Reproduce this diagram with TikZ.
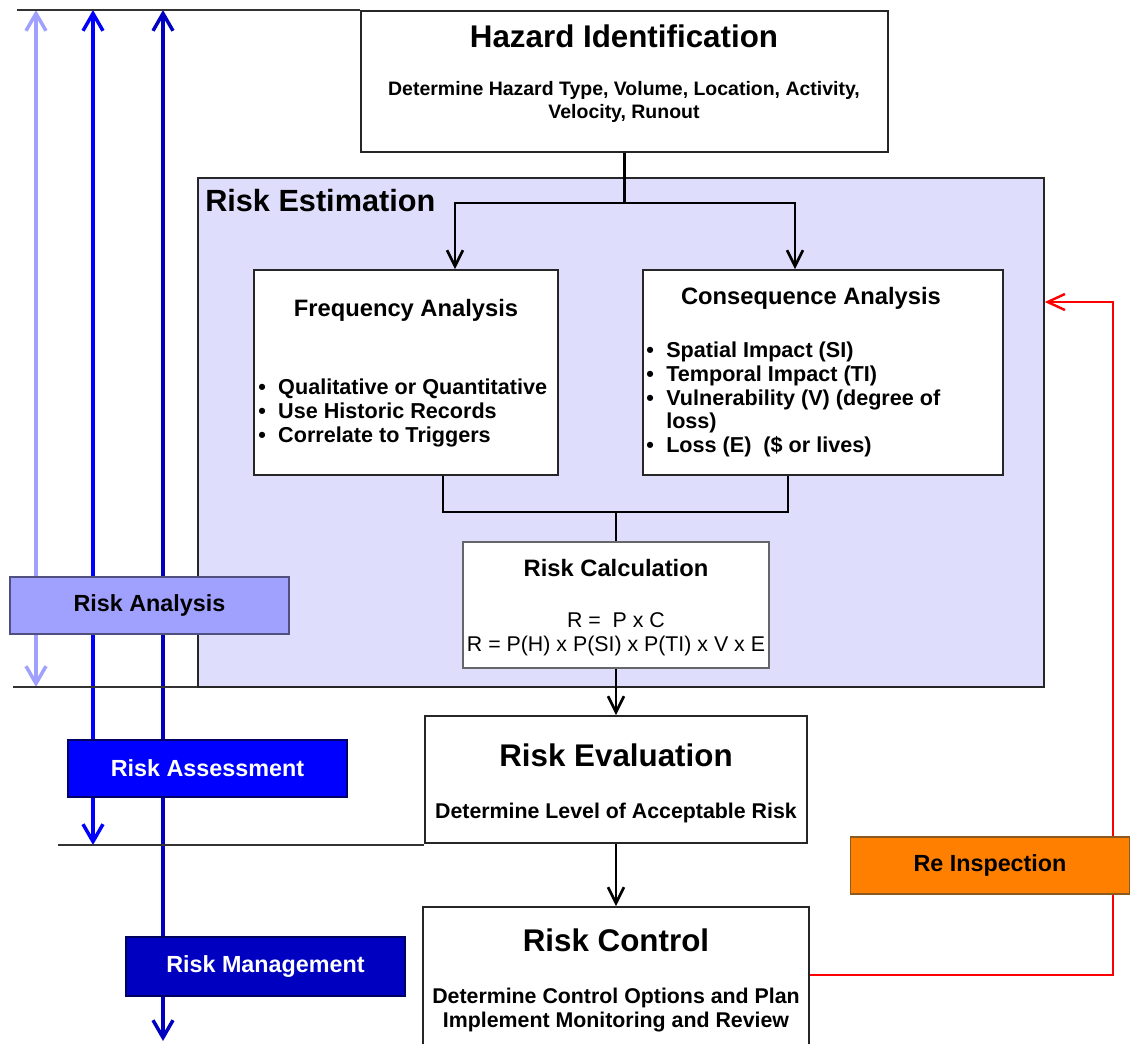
\documentclass[tikz,border=0pt]{standalone}
\usepackage{fontspec}
\setmainfont{Liberation Sans}
\usetikzlibrary{arrows.meta,calc}
\definecolor{estfill}{HTML}{DEDEFC}
\definecolor{ralight}{HTML}{A0A0FF}
\definecolor{rablue}{HTML}{0000FF}
\definecolor{rmdark}{HTML}{0000C0}
\definecolor{orng}{HTML}{FF8000}
\definecolor{orngedge}{HTML}{8A5A20}
\begin{document}
\begin{tikzpicture}[x=0.75pt,y=-0.75pt,
  box/.style={draw=black!85, line width=1.3pt, fill=white, inner sep=0pt},
  lbl/.style={draw, line width=0.9pt, inner sep=0pt, minimum width=209.25pt, minimum height=42.75pt,
              font=\fontsize{17.5}{20}\selectfont\bfseries},
  bigtitle/.style={font=\fontsize{23.5}{28}\selectfont\bfseries, inner sep=0pt},
  midtitle/.style={font=\fontsize{17.8}{21}\selectfont\bfseries, inner sep=0pt},
  subtext/.style={font=\fontsize{16}{17.6}\selectfont\bfseries, inner sep=0pt, align=center},
  bullets/.style={font=\fontsize{16.2}{17.7}\selectfont\bfseries, inner sep=0pt, align=left, anchor=west},
  conn/.style={line width=1.9pt, black},
  arr/.style={conn, -{Straight Barb[length=12pt,width=12pt,line width=2pt]}},
  thin/.style={line width=1pt, black!80},
  sidearr/.style={line width=3.6pt,
     {Straight Barb[length=13pt,width=15pt,line width=2.6pt]}-{Straight Barb[length=13pt,width=15pt,line width=2.6pt]}},
]
\useasboundingbox (0,0) rectangle (1132,1043);
\clip (0,0) rectangle (1132,1043);

% side arrows (behind labels)
\coordinate (a1t) at (36,10);  \coordinate (a1b) at (36,687);
\coordinate (a2t) at (93,10);  \coordinate (a2b) at (93,845);
\coordinate (a3t) at (163,10); \coordinate (a3b) at (163,1041);
\draw[sidearr, color=ralight] (a1t) -- (a1b);
\draw[sidearr, color=rablue] (a2t) -- (a2b);
\draw[sidearr, color=rmdark] (a3t) -- (a3b);

% risk estimation region
\node[draw=black!85, line width=1.1pt, fill=estfill, inner sep=0pt,
      minimum width=634.5pt, minimum height=381.75pt] (est) at (621,432.5) {};
\node[font=\fontsize{23}{27}\selectfont\bfseries, inner sep=0pt, anchor=west] (esttitle) at (205,201) {Risk Estimation};

% main boxes
\node[box, minimum width=395.25pt, minimum height=105.75pt] (haz) at (624.5,81.5) {};
\node[box, minimum width=228pt, minimum height=153.75pt] (freq) at (406,372.5) {};
\node[box, minimum width=270pt, minimum height=153.75pt] (cons) at (823,372.5) {};
\node[box, draw=black!60, line width=1pt, minimum width=229.5pt, minimum height=94.5pt] (calc) at (616,605) {};
\node[box, minimum width=286.5pt, minimum height=95.25pt] (eval) at (616,779.5) {};
\node[box, minimum width=289.5pt, minimum height=107.25pt] (ctrl) at (616,978.5) {};

% thin horizontal lines
\coordinate (h1) at (17,10);
\coordinate (h2) at (13,687);
\coordinate (h3) at (58,845);
\draw[thin] (h1) -- (h1 -| haz.west);
\draw[thin] (h2) -- (h2 -| est.west);
\draw[thin] (h3) -- (h3 -| eval.west);

% texts
\node[bigtitle] (hazt) at (624,36) {Hazard Identification};
\node[subtext, font=\fontsize{14.6}{17.3}\selectfont\bfseries] (hazs) at (624,102)
  {Determine Hazard Type, Volume, Location, Activity,\\Velocity, Runout};

\node[midtitle] (freqt) at (406,310) {Frequency Analysis};
\node[bullets] (freqb) at (258,413)
  {\makebox[15pt][l]{\textbullet}Qualitative or Quantitative\\
   \makebox[15pt][l]{\textbullet}Use Historic Records\\
   \makebox[15pt][l]{\textbullet}Correlate to Triggers};

\node[midtitle] (const) at (811,298) {Consequence Analysis};
\node[bullets] (consb) at (646,399.5)
  {\makebox[15pt][l]{\textbullet}Spatial Impact (SI)\\
   \makebox[15pt][l]{\textbullet}Temporal Impact (TI)\\
   \makebox[15pt][l]{\textbullet}Vulnerability (V) (degree of\\
   \makebox[15pt][l]{}loss)\\
   \makebox[15pt][l]{\textbullet}Loss (E)\ \ (\$ or lives)};

\node[midtitle] (calct) at (616,568) {Risk Calculation};
\node[font=\fontsize{16}{18}\selectfont, inner sep=0pt, align=center] (calcf) at (616,634)
  {R =\ \ P x C\\R = P(H) x P(SI) x P(TI) x V x E};

\node[bigtitle] (evalt) at (616,755) {Risk Evaluation};
\node[subtext] (evals) at (616,813) {Determine Level of Acceptable Risk};

\node[bigtitle] (ctrlt) at (616,940) {Risk Control};
\node[subtext] (ctrls) at (616,1010) {Determine Control Options and Plan\\Implement Monitoring and Review};

% connectors
\coordinate (split) at (624.5,203);
\coordinate (join) at (616,512);
\draw[conn] (haz.south) -- (split);
\draw[arr] (split) -| ([xshift=36.75pt]freq.north);
\draw[arr] (split) -| ([xshift=-21pt]cons.north);
\draw[conn] ([xshift=27.75pt]freq.south) |- (join);
\draw[conn] ([xshift=-26.25pt]cons.south) |- (join);
\draw[conn] (join) -- (calc.north);
\draw[arr] (calc.south) -- (eval.north);
\draw[arr] (eval.south) -- (ctrl.north);

% red feedback loop
\coordinate (rc) at (1113,302);
\draw[red, line width=1.8pt, -{Straight Barb[length=13pt,width=12pt,line width=1.8pt]}]
  ([yshift=2.6pt]ctrl.east) -| (rc) -- (rc -| est.east);

% labels
\node[lbl, fill=orng, draw=orngedge, text=black] (reinsp) at (990,865.5) {Re Inspection};
\node[lbl, fill=ralight, draw=black!50!ralight, text=black] (ra) at (149.5,605.5) {Risk Analysis};
\node[lbl, fill=rablue, draw=black!60!rablue, text=white] (rass) at (207.5,768.5) {Risk Assessment};
\node[lbl, fill=rmdark, draw=black!50!rmdark, text=white, minimum height=44.25pt] (rman) at (265.5,966.5) {Risk Management};
\end{tikzpicture}
\end{document}
